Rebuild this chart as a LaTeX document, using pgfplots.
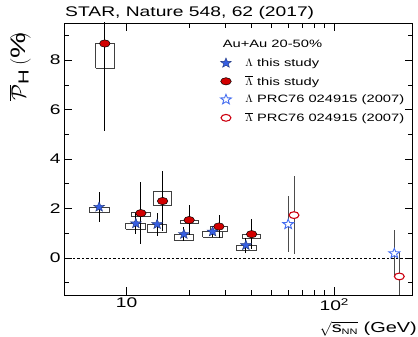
\documentclass[border=0pt]{standalone}
\usepackage{fontspec}
\setmainfont{Liberation Sans}[FakeStretch=1.38]
\usepackage{pgfplots}
\pgfplotsset{compat=1.18}
\definecolor{sblue}{RGB}{55,95,225}
\definecolor{oblue}{RGB}{70,110,240}
\definecolor{fred}{RGB}{210,0,0}
\definecolor{ored}{RGB}{205,0,15}
\pgfdeclareplotmark{fstar}{%
  \pgfpathmoveto{\pgfpointpolar{90}{\pgfplotmarksize}}%
  \pgfpathlineto{\pgfpointpolar{126}{0.42\pgfplotmarksize}}%
  \pgfpathlineto{\pgfpointpolar{162}{\pgfplotmarksize}}%
  \pgfpathlineto{\pgfpointpolar{198}{0.42\pgfplotmarksize}}%
  \pgfpathlineto{\pgfpointpolar{234}{\pgfplotmarksize}}%
  \pgfpathlineto{\pgfpointpolar{270}{0.42\pgfplotmarksize}}%
  \pgfpathlineto{\pgfpointpolar{306}{\pgfplotmarksize}}%
  \pgfpathlineto{\pgfpointpolar{342}{0.42\pgfplotmarksize}}%
  \pgfpathlineto{\pgfpointpolar{18}{\pgfplotmarksize}}%
  \pgfpathlineto{\pgfpointpolar{54}{0.42\pgfplotmarksize}}%
  \pgfpathclose
  \pgfusepathqfillstroke}
\begin{document}
\begin{tikzpicture}
\begin{axis}[
  scale only axis, width=348.5bp, height=272bp,
  xmode=log, xmin=5, xmax=238, ymin=-1.5, ymax=9.5,
  xtick={10,100}, xticklabels={10,10\textsuperscript{2}},
  ytick={0,2,4,6,8}, minor ytick={-1,1,3,5,7,9},
  /pgf/number format/assume math mode=true,
  tick label style={font=\fontsize{14}{14}\selectfont},
  xticklabel style={inner sep=1bp, yshift=-2bp},
  major tick length=8bp, minor tick length=5bp,
  tick style={black, line width=0.6pt},
  axis line style={line width=0.8pt},
  ylabel={$\overline{\mathcal{P}}_{\mathrm{H}}\ (\%)$},
  ylabel style={font=\fontsize{21}{21}\selectfont, at={(axis description cs:-0.126,0.979)}, anchor=east},
  xlabel={$\sqrt{\mbox{s}_{\mbox{\fontsize{8}{8}\selectfont NN}}}$ (GeV)},
  xlabel style={font=\fontsize{14.5}{14.5}\selectfont, inner sep=0pt, at={(axis description cs:1.013,-0.152)}, anchor=south east},
  legend style={at={(axis description cs:0.44,0.885)}, anchor=north west, draw=none, fill=none,
    font=\fontsize{10.7}{10.7}\selectfont, row sep=4.2pt, cells={anchor=west}},
  legend cell align=left,
  clip mode=individual,
]
% zero line
\addplot[black, line width=0.5pt, dash pattern=on 2.5pt off 2pt, forget plot] coordinates {(5,0) (238,0)};
% systematic boxes
\pgfplotsset{sysbox/.style={black!75, line width=0.7pt, forget plot}}
\addplot[sysbox] coordinates {(6.60,1.83) (8.25,1.83) (8.25,2.06) (6.60,2.06) (6.60,1.83)};
\addplot[sysbox] coordinates {(7.09,7.68) (8.72,7.68) (8.72,8.69) (7.09,8.69) (7.09,7.68)};
\addplot[sysbox] coordinates {(9.89,1.16) (12.25,1.16) (12.25,1.39) (9.89,1.39) (9.89,1.16)};
\addplot[sysbox] coordinates {(10.57,1.67) (12.95,1.67) (12.95,1.85) (10.57,1.85) (10.57,1.67)};
\addplot[sysbox] coordinates {(12.57,1.02) (15.58,1.02) (15.58,1.36) (12.57,1.36) (12.57,1.02)};
\addplot[sysbox] coordinates {(13.43,2.13) (16.47,2.13) (16.47,2.68) (13.43,2.68) (13.43,2.13)};
\addplot[sysbox] coordinates {(16.90,0.73) (20.93,0.73) (20.93,0.96) (16.90,0.96) (16.90,0.73)};
\addplot[sysbox] coordinates {(18.06,1.39) (22.13,1.39) (22.13,1.53) (18.06,1.53) (18.06,1.39)};
\addplot[sysbox] coordinates {(23.23,0.85) (29.00,0.85) (29.00,1.06) (23.23,1.06) (23.23,0.85)};
\addplot[sysbox] coordinates {(25.19,1.09) (30.52,1.09) (30.52,1.29) (25.19,1.29) (25.19,1.09)};
\addplot[sysbox] coordinates {(33.60,0.31) (41.97,0.31) (41.97,0.51) (33.60,0.51) (33.60,0.31)};
\addplot[sysbox] coordinates {(36.22,0.78) (44.21,0.78) (44.21,0.96) (36.22,0.96) (36.22,0.78)};
% statistical error bars
\pgfplotsset{ebar/.style={draw=none, mark=none, forget plot, error bars/y dir=both, error bars/y explicit,
  error bars/error mark=none, error bars/error bar style={line width=0.8pt, #1}}}
\addplot[ebar=black] table[x=x, y=y, y error=e] {
x y e
7.38 2.06 0.62
11.09 1.39 0.41
14.04 1.36 0.47
18.88 0.96 0.27
25.96 1.06 0.23
37.55 0.51 0.30
};
\addplot[ebar=black] table[x=x, y=y, y error=e] {
x y e
7.86 8.67 3.55
11.72 1.81 1.25
14.91 2.30 1.21
20.02 1.53 0.59
27.84 1.27 0.45
40.00 0.96 0.60
};
\addplot[ebar=black!70] table[x=x, y=y, y error=e] {
x y e
60.0 1.36 1.14
194.5 0.18 0.95
};
\addplot[ebar=black!70] table[x=x, y=y, y error=e] {
x y e
64.0 1.73 1.58
205.6 -0.75 0.97
};
% markers
\addplot[only marks, mark=fstar, mark size=5.2bp, mark options={xscale=1.1, fill=sblue, draw=sblue!55!black, line width=0.4pt}] table {
7.38 2.06
11.09 1.39
14.04 1.36
18.88 0.96
25.96 1.06
37.55 0.51
};
\addlegendentry{\hspace{12bp}$\Lambda$ this study}
\addplot[only marks, mark=*, mark size=3.65bp, mark options={xscale=1.45, fill=fred, draw=black, line width=0.5pt}] table {
7.86 8.67
11.72 1.81
14.91 2.30
20.02 1.53
27.84 1.27
40.00 0.96
};
\addlegendentry{\hspace{12bp}$\overline{\Lambda}$ this study}
\addplot[only marks, mark=fstar, mark size=5.2bp, mark options={xscale=1.1, fill=white, draw=oblue, line width=0.9pt}] table {
60.0 1.36
194.5 0.18
};
\addlegendentry{\hspace{12bp}$\Lambda$ PRC76 024915 (2007)}
\addplot[only marks, mark=*, mark size=3.4bp, mark options={xscale=1.45, fill=white, draw=ored, line width=1.1pt}] table {
64.0 1.73
205.6 -0.75
};
\addlegendentry{\hspace{12bp}$\overline{\Lambda}$ PRC76 024915 (2007)}
\node[anchor=west, font=\fontsize{10.7}{10.7}\selectfont, inner sep=0pt] at (axis description cs:0.455,0.925) {Au+Au 20-50\%};
\node[anchor=west, font=\fontsize{14}{14}\selectfont, inner sep=0pt] at (axis description cs:0.003,1.037) {STAR, Nature 548, 62 (2017)};
\coordinate (O) at (rel axis cs:0,0);
\end{axis}
\pgfresetboundingbox
\useasboundingbox ([shift={(-64bp,-42bp)}]O) rectangle ([shift={(354bp,295bp)}]O);
\end{tikzpicture}
\end{document}
